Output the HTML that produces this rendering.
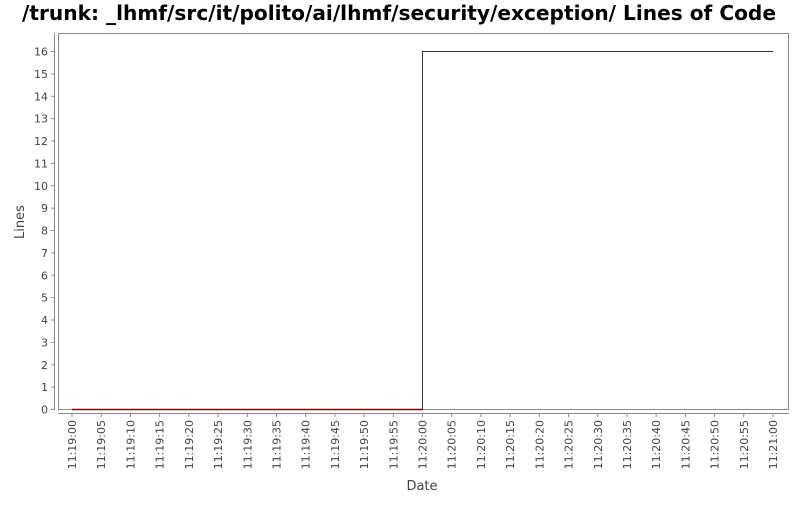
<!DOCTYPE html>
<html><head><meta charset="utf-8"><style>
body{margin:0;background:#fff;font-family:"Liberation Sans","DejaVu Sans",sans-serif}
</style></head><body>
<svg width="800" height="500" xmlns="http://www.w3.org/2000/svg">
<rect width="800" height="500" fill="#fff"/>
<text x="399" y="20" text-anchor="middle" font-size="20" font-weight="bold" fill="#000" font-family="DejaVu Sans, sans-serif" textLength="754" lengthAdjust="spacingAndGlyphs">/trunk: _lhmf/src/it/polito/ai/lhmf/security/exception/ Lines of Code</text>
<rect x="58.5" y="33.5" width="730" height="376" fill="#fff" stroke="#888"/>
<g id="yaxis"></g>
<g id="xaxis"></g>
<g id="series"></g>
<text transform="translate(24,222) rotate(-90)" text-anchor="middle" font-size="13" fill="#444" font-family="DejaVu Sans, sans-serif">Lines</text>
<text x="422" y="490" text-anchor="middle" font-size="13" fill="#444" font-family="DejaVu Sans, sans-serif">Date</text>
</svg>
<script>
const yTicks=[0,1,2,3,4,5,6,7,8,9,10,11,12,13,14,15,16];
const xLabels=["11:19:00","11:19:05","11:19:10","11:19:15","11:19:20","11:19:25","11:19:30","11:19:35","11:19:40","11:19:45","11:19:50","11:19:55","11:20:00","11:20:05","11:20:10","11:20:15","11:20:20","11:20:25","11:20:30","11:20:35","11:20:40","11:20:45","11:20:50","11:20:55","11:21:00"];
const seriesX=[0,12,24];
const seriesY=[0,16,16];
const NS="http://www.w3.org/2000/svg";
function y(v){return 409.5-v*22.375;}
function x(i){return 72+i*(701/24);}
function mk(t,a,p){const e=document.createElementNS(NS,t);for(const k in a)e.setAttribute(k,a[k]);p.appendChild(e);return e;}
const ya=document.getElementById('yaxis');
mk('line',{x1:54.5,x2:54.5,y1:33,y2:410,stroke:'#888'},ya);
yTicks.forEach(v=>{
 const l=mk('line',{x1:51,x2:54.5,y1:y(v),y2:y(v),stroke:'#888'},ya);
 
 
 const t=mk('text',{x:48,y:y(v)+4,'text-anchor':'end','font-size':11,fill:'#444','font-family':'DejaVu Sans, sans-serif'},ya);
 t.textContent=v;
 
 
});
const xa=document.getElementById('xaxis');
mk('line',{x1:58,x2:789,y1:413.5,y2:413.5,stroke:'#888'},xa);
xLabels.forEach((s,i)=>{
 const l=mk('line',{x1:x(i),x2:x(i),y1:413.5,y2:417,stroke:'#888'},xa);
 
 
 const t=mk('text',{transform:`translate(${x(i)+4},420) rotate(-90)`,'text-anchor':'end','font-size':11,fill:'#444','font-family':'DejaVu Sans, sans-serif'},xa);
 t.textContent=s;
 
 
});
const sg=document.getElementById('series');
let d='';
for(let i=0;i<seriesX.length;i++){
 if(i===0)d+=`M${x(seriesX[0])},${y(seriesY[0])}`;
 else d+=` H${x(seriesX[i])} V${y(seriesY[i])}`;
}
const p=mk('path',{d:d,fill:'none',stroke:'#333','stroke-width':1},sg);


const z=mk('line',{x1:x(seriesX[0]),x2:x(seriesX[1]),y1:y(seriesY[0]),y2:y(seriesY[0]),stroke:'#800000','stroke-width':1.5},sg);


</script>
</body></html>
